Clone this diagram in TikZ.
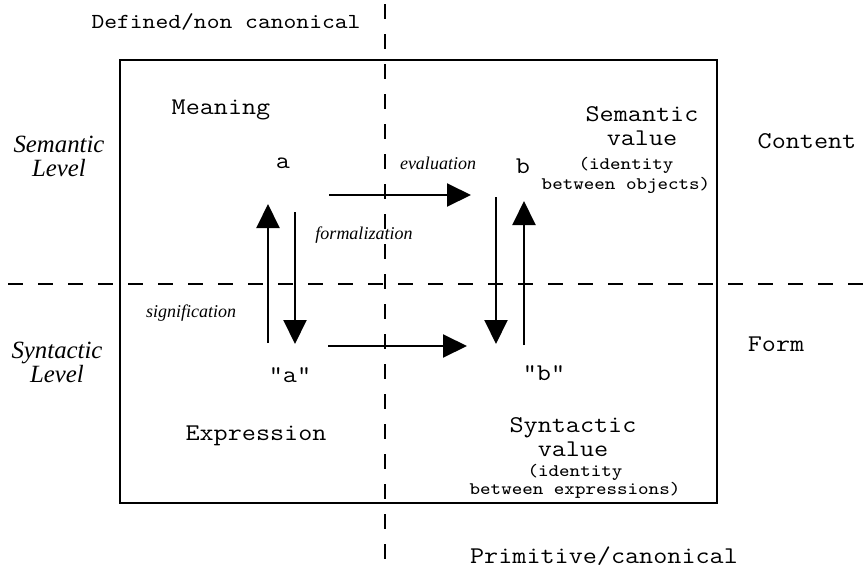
\documentclass[tikz,border=0pt]{standalone}
\usepackage{fontspec}
\setmainfont{Liberation Serif}
\setmonofont[FakeStretch=1.14]{Latin Modern Mono}
\usetikzlibrary{arrows.meta,positioning}

\begin{document}
\begin{tikzpicture}[x=0.5pt,y=-0.5pt,line width=1pt,
	big/.style={font=\fontsize{12}{12}\ttfamily,inner sep=0pt,align=center},
	small/.style={font=\fontsize{8.8}{10}\ttfamily,inner sep=0pt,align=center},
	level/.style={font=\fontsize{12.4}{12}\itshape,inner sep=0pt,align=center},
	rel/.style={font=\fontsize{9}{10}\itshape,inner sep=0pt},
	split/.style={dash pattern=on 7.5pt off 7.5pt},
	arr/.style={-{Triangle[length=12pt,width=11.5pt]}}]
	\useasboundingbox (0,0) rectangle (868,568);
	% frame and the two dividing lines
	\draw (120,60) rectangle (717,503);
	\draw[split] (8,284) -- (868,284);
	\draw[split] (385,4) -- (385,562);
	% texts
	\node[big,font=\fontsize{10.7}{12}\ttfamily] (defined) at (226,22) {Defined/non canonical};
	\node[big] (primitive) at (604,556) {Primitive/canonical};
	\node[level] (semlev) at (59,156) {Semantic\\Level};
	\node[level] (synlev) at (57,362) {Syntactic\\Level};
	\node[big] (content) at (807,141) {Content};
	\node[big] (form) at (776,344) {Form};
	\node[big] (meaning) at (221,110) {Meaning};
	\node[big] (expr) at (256,436) {Expression};
	\node[big] (a) at (283,163) {a};
	\node[big] (b) at (523,166) {b};
	\node[big] (qa) at (290,375) {"a"};
	\node[big] (qb) at (544,373) {"b"};
	\node[big] (semval) at (642,126) {Semantic\\value};
	\node[small] (semid) at (626,175) {(identity\\between objects)};
	\node[big] (synval) at (573,437) {Syntactic\\value};
	\node[small,font=\fontsize{8.8}{9}\ttfamily] (synid) at (575,481) {(identity\\between expressions)};
	\node[rel] (eval) at (438,163) {evaluation};
	\node[rel] (formal) at (364,235) {formalization};
	\node[rel] (signif) at (191,313) {signification};
	% arrow ends
	\coordinate (aup0) at (268,343);  \coordinate (aup1) at (268,204);
	\coordinate (adn0) at (295,212);  \coordinate (adn1) at (295,344);
	\coordinate (bdn0) at (496,197);  \coordinate (bdn1) at (496,344);
	\coordinate (bup0) at (524,345);  \coordinate (bup1) at (524,201);
	\coordinate (ev0) at (329,195);   \coordinate (ev1) at (471,195);
	\coordinate (ex0) at (328,346);   \coordinate (ex1) at (467,346);
	\draw[arr] (aup0) -- (aup1);
	\draw[arr] (adn0) -- (adn1);
	\draw[arr] (bdn0) -- (bdn1);
	\draw[arr] (bup0) -- (bup1);
	\draw[arr] (ev0) -- (ev1);
	\draw[arr] (ex0) -- (ex1);
\end{tikzpicture}
\end{document}
